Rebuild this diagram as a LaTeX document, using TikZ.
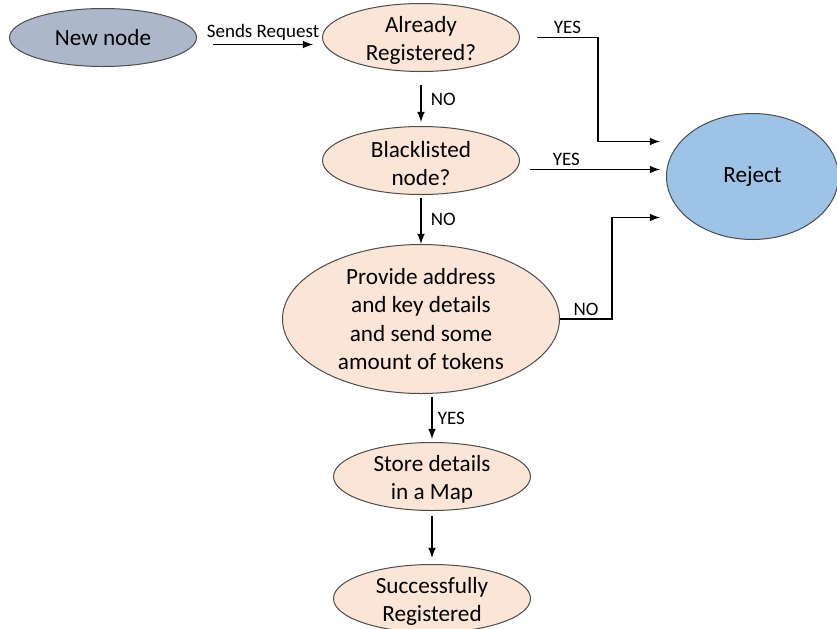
\documentclass[tikz,border=0pt]{standalone}
\usepackage{fontspec}
\setmainfont{Carlito}
\usetikzlibrary{shapes.geometric,positioning,calc}
\definecolor{peach}{HTML}{FBE5D6}
\definecolor{slate}{HTML}{ADB7CA}
\definecolor{skyblue}{HTML}{9DC3E6}
\newcommand{\upstrut}{\rule{0pt}{11pt}}

\begin{document}
\begin{tikzpicture}[x=0.5pt, y=-0.5pt]
    \tikzstyle{main}=[ellipse, draw=black!70, line width=0.5pt, inner xsep=0pt, inner ysep=-2pt, align=center, font=\fontsize{11.6}{14.2}\selectfont]
    \tikzstyle{stage}=[main, fill=peach, minimum width=98.5pt, minimum height=34pt]
    \tikzstyle{connect}=[-latex, line width=0.75pt]
    \tikzstyle{lbl}=[font=\fontsize{9.5}{10}\selectfont, inner sep=1.5pt]
    \useasboundingbox (0,0) rectangle (837,628);
      \node[stage] (reg) at (421,37.5) {\upstrut Already\\Registered?};
      \node[main, fill=slate, minimum width=93.5pt, minimum height=29pt] (new) [left=62.5pt of reg] {New node};
      \node[stage] (bl) [below=27pt of reg] {\upstrut Blacklisted\\node?};
      \node[stage, minimum width=138.5pt, minimum height=74.5pt] (prov) [below=24.5pt of bl] {Provide address\\and key details\\and send some\\amount of tokens};
      \node[stage] (store) [below=24pt of prov, xshift=5.5pt] {\upstrut Store details\\in a Map};
      \node[stage] (succ) [below=26.5pt of store] {\upstrut Successfully\\Registered};
      \node[main, fill=skyblue, minimum width=86pt, minimum height=63pt] (rej) [right=73pt of bl, yshift=-8pt] {Reject};
      % request and the three ways to reject
      \draw[connect] ($(new.east)+(16,7)$) -- ($(new.east -| reg.west)+(-9,7)$) node[midway, above, lbl] {Sends Request};
      \draw[connect] ($(reg.east)+(17,0)$) -| node[pos=0.25, above, lbl] {YES} ($(rej.west)+(-68,-35)$) -- ($(rej.west)+(-6,-35)$);
      \draw[connect] ($(bl.east)+(10,9)$) -- ($(rej.west)+(-6,-7)$) node[pos=0.28, above, lbl] {YES};
      \draw[connect] (prov.east) -| node[pos=0.25, above, lbl] {NO} ($(rej.west)+(-54,41)$) -- ($(rej.west)+(-6,41)$);
      % main flow downwards
      \path (reg) edge [connect, shorten <=6.5pt, shorten >=2pt] node[right=3pt, lbl] {NO} (bl);
      \path (bl.south) edge [connect, shorten <=1.5pt] node[right=3pt, lbl] {NO} (prov.north);
      \path (store.north |- prov.south) edge [connect, shorten <=1.5pt, shorten >=1.5pt] node[right=1pt, lbl] {YES} (store.north);
      \path (store) edge [connect, shorten <=2.5pt, shorten >=3pt] (succ);
    \end{tikzpicture}
\end{document}
